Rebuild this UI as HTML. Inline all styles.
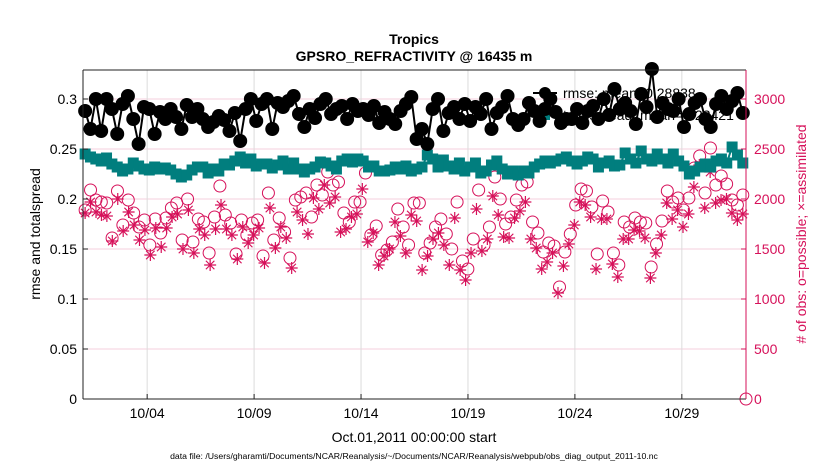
<!DOCTYPE html>
<html><head><meta charset="utf-8"><style>
body{margin:0;background:#fff;font-family:"Liberation Sans",sans-serif}
svg text{font-family:"Liberation Sans",sans-serif}
</style></head><body>
<svg id="chart" width="830" height="470" viewBox="0 0 830 470" xmlns="http://www.w3.org/2000/svg">
<rect width="830" height="470" fill="#fff"/>
<g id="grid"></g>
<g id="series"></g>
<g id="axes"></g>
<text x="414" y="44" font-size="14" font-weight="bold" text-anchor="middle">Tropics</text>
<text x="414" y="61" font-size="14" font-weight="bold" text-anchor="middle">GPSRO_REFRACTIVITY @ 16435 m</text>
<text transform="translate(40,234) rotate(-90)" font-size="14" text-anchor="middle">rmse and totalspread</text>
<text transform="translate(806,234) rotate(-90)" font-size="14" fill="#d6115a" text-anchor="middle"># of obs: o=possible; ×=assimilated</text>
<text x="414" y="442" font-size="14" text-anchor="middle">Oct.01,2011 00:00:00 start</text>
<text x="414" y="459" font-size="8.7" text-anchor="middle">data file: /Users/gharamti/Documents/NCAR/Reanalysis/~/Documents/NCAR/Reanalysis/webpub/obs_diag_output_2011-10.nc</text>
</svg>
<script>
const rmse=[288,270,300,268,300,290,265,295,303,280,255,292,290,265,287,280,290,282,270,294,282,290,280,272,277,283,279,268,286,258,290,300,278,295,300,270,296,292,298,303,285,272,290,281,295,300,285,290,293,280,295,288,290,284,293,276,287,280,275,288,295,302,260,270,255,290,300,268,286,292,280,295,278,292,285,300,270,286,292,303,280,274,280,296,288,278,290,300,287,276,280,280,290,276,288,293,280,300,284,310,290,296,288,275,305,292,330,282,296,290,288,300,272,285,296,300,280,272,295,303,290,298,306,286];
const spread=[245,242,240,238,241,235,232,228,230,236,233,230,229,232,230,231,229,225,222,224,229,232,232,226,230,228,235,234,238,242,236,240,233,235,235,231,234,238,230,236,230,227,230,232,237,236,233,230,238,240,237,240,238,232,233,228,228,229,232,230,233,228,230,232,244,240,232,239,233,230,236,228,232,236,226,228,234,238,230,225,228,224,228,226,232,235,238,236,238,240,242,238,235,238,242,240,232,236,238,233,234,246,240,236,248,240,238,245,240,236,245,238,233,225,228,232,235,232,238,240,236,252,244,236];
const possible=[1890,2090,1990,1970,1960,1610,2080,1740,1990,1860,1720,1790,1540,1800,1660,1810,1910,1960,1590,2000,1570,1800,1770,1460,1820,2130,1840,1760,1450,1790,1640,1760,1790,1430,2060,1590,1810,1670,1410,1990,2020,
2060,1820,2140,2040,2270,2140,2170,1860,1770,1970,1970,2260,1640,1730,1440,1490,1570,1900,1720,1540,1960,1960,1460,1560,1720,1800,1650,1500,1970,1380,1300,1600,2090,1540,1720,2220,2000,1750,1820,1990,
2140,2170,1770,1660,1470,1560,1530,1120,1470,1650,1940,2100,2080,1920,1450,1980,1870,1460,1340,1770,1720,1810,1770,1760,1320,1550,1780,2080,1970,2010,1890,2010,2310,2430,2060,2510,2140,2230,2150,1990,1940,2040];
const assimilated=[1860,1970,1870,1840,1830,1580,2000,1680,1870,1740,1590,1690,1440,1710,1520,1710,1820,1850,1500,1890,1460,1700,1640,1340,1700,1940,1700,1640,1400,1720,1560,1640,1710,1360,1910,1510,1720,1610,1310,1870,1790,
1650,2010,1900,2140,1960,2020,1670,1700,1820,1850,2100,1570,1660,1340,1430,1500,1770,1630,1460,1840,1780,1290,1430,1600,1660,1540,1340,1810,1290,1190,1460,1900,1480,1600,2030,1840,1620,1610,1810,
1880,1970,1600,1510,1300,1370,1460,1060,1330,1550,1740,1970,1940,1820,1300,1800,1800,1350,1220,1600,1600,1690,1680,1610,1210,1460,1640,1960,1800,1890,1720,1850,2120,2340,1910,2270,1960,1990,2000,1860,1790,1850];
const xTicks=[3,8,13,18,23,28];
const xTickLabels=["10/04","10/09","10/14","10/19","10/24","10/29"];
const yTicks=[0,0.05,0.1,0.15,0.2,0.25,0.3];
const yTickLabels=["0","0.05","0.1","0.15","0.2","0.25","0.3"];
const rTicks=[0,500,1000,1500,2000,2500,3000];
const rTickLabels=["0","500","1000","1500","2000","2500","3000"];

const L=83,R=746,T=70,B=399,PINK="#d6115a",TEAL="#017e7e";
const x=t=>L+(t/31)*(R-L);
const yL=v=>B-v*(B-99)/0.3;
const yR=c=>B-c*(B-99)/3000;
const tOf=(i,n)=>0.1+i*(30.75/(n-1));
const NS="http://www.w3.org/2000/svg";
function mk(tag,attrs,parent){const e=document.createElementNS(NS,tag);for(const k in attrs)e.setAttribute(k,attrs[k]);parent.appendChild(e);return e;}
const grid=document.getElementById('grid'),ser=document.getElementById('series'),ax=document.getElementById('axes');

rTicks.forEach((c,i)=>{
  const g=mk('line',{x1:L,x2:R,y1:yR(c),y2:yR(c),stroke:"#f6cfdd","stroke-width":1},grid);
  
  
  const tk=mk('line',{x1:R-5,x2:R,y1:yR(c),y2:yR(c),stroke:PINK},ax);
  
  
  const tl=mk('text',{x:R+8,y:yR(c)+5,"font-size":14,fill:PINK},ax);
  tl.textContent=rTickLabels[i];
  
  
});
xTicks.forEach((t,i)=>{
  const g=mk('line',{x1:x(t),x2:x(t),y1:T,y2:B,stroke:"#dcdcdc","stroke-width":1},grid);
  
  
  const tk=mk('line',{x1:x(t),x2:x(t),y1:B,y2:B-5,stroke:"#222"},ax);
  
  
  const tl=mk('text',{x:x(t),y:418,"font-size":14,"text-anchor":"middle"},ax);
  tl.textContent=xTickLabels[i];
  
  
});
yTicks.forEach((v,i)=>{
  const tk=mk('line',{x1:L,x2:L+5,y1:yL(v),y2:yL(v),stroke:"#222"},ax);
  
  
  const tl=mk('text',{x:L-6,y:yL(v)+5,"font-size":14,"text-anchor":"end"},ax);
  tl.textContent=yTickLabels[i];
  
  
});
const lg=mk('g',{},ser);


mk('line',{x1:533,x2:557,y1:93,y2:93,stroke:"#000","stroke-width":2},lg);
mk('circle',{cx:545,cy:93,r:6,fill:"#000"},lg);
const lt1=mk('text',{x:563,y:98,"font-size":14},lg);lt1.textContent="rmse: mean=0.28838";


mk('line',{x1:533,x2:557,y1:115,y2:115,stroke:TEAL,"stroke-width":2},lg);
mk('rect',{x:540,y:110,width:10,height:10,fill:TEAL},lg);
const lt2=mk('text',{x:563,y:120,"font-size":14},lg);lt2.textContent="totalspread: mean=0.23421";



possible.forEach((c,i)=>{
  const e=mk('circle',{cx:x(tOf(i,possible.length)),cy:yR(c),r:6,fill:"none",stroke:PINK,"stroke-width":1},ser);
  
  
});
assimilated.forEach((c,i)=>{
  const cx=x(tOf(i,assimilated.length)),cy=yR(c),r=6;let d="";
  for(let k=0;k<4;k++){const a=k*Math.PI/4;d+=`M${cx-r*Math.cos(a)},${cy-r*Math.sin(a)}L${cx+r*Math.cos(a)},${cy+r*Math.sin(a)}`;}
  const e=mk('path',{d:d,stroke:PINK,"stroke-width":1.2,fill:"none"},ser);
  
  
});
const em=mk('circle',{cx:R,cy:B,r:6,fill:"none",stroke:PINK},ser);



const sp=mk('polyline',{points:spread.map((v,i)=>x(tOf(i,spread.length))+","+yL(v/1000)).join(" "),fill:"none",stroke:TEAL,"stroke-width":2},ser);


spread.forEach((v,i)=>{
  const e=mk('rect',{x:x(tOf(i,spread.length))-5.5,y:yL(v/1000)-5.5,width:11,height:11,fill:TEAL},ser);
  
  
});
const rl=mk('polyline',{points:rmse.map((v,i)=>x(tOf(i,rmse.length))+","+yL(v/1000)).join(" "),fill:"none",stroke:"#000","stroke-width":2},ser);


rmse.forEach((v,i)=>{
  const e=mk('circle',{cx:x(tOf(i,rmse.length)),cy:yL(v/1000),r:7,fill:"#000"},ser);
  
  
});
mk('line',{x1:L,x2:R,y1:T,y2:T,stroke:"#222"},ax);
mk('line',{x1:L,x2:R,y1:B,y2:B,stroke:"#222"},ax);
const la=mk('line',{x1:L,x2:L,y1:T,y2:B,stroke:"#222"},ax);


const ra=mk('line',{x1:R,x2:R,y1:T,y2:B,stroke:PINK},ax);


</script>
</body></html>
